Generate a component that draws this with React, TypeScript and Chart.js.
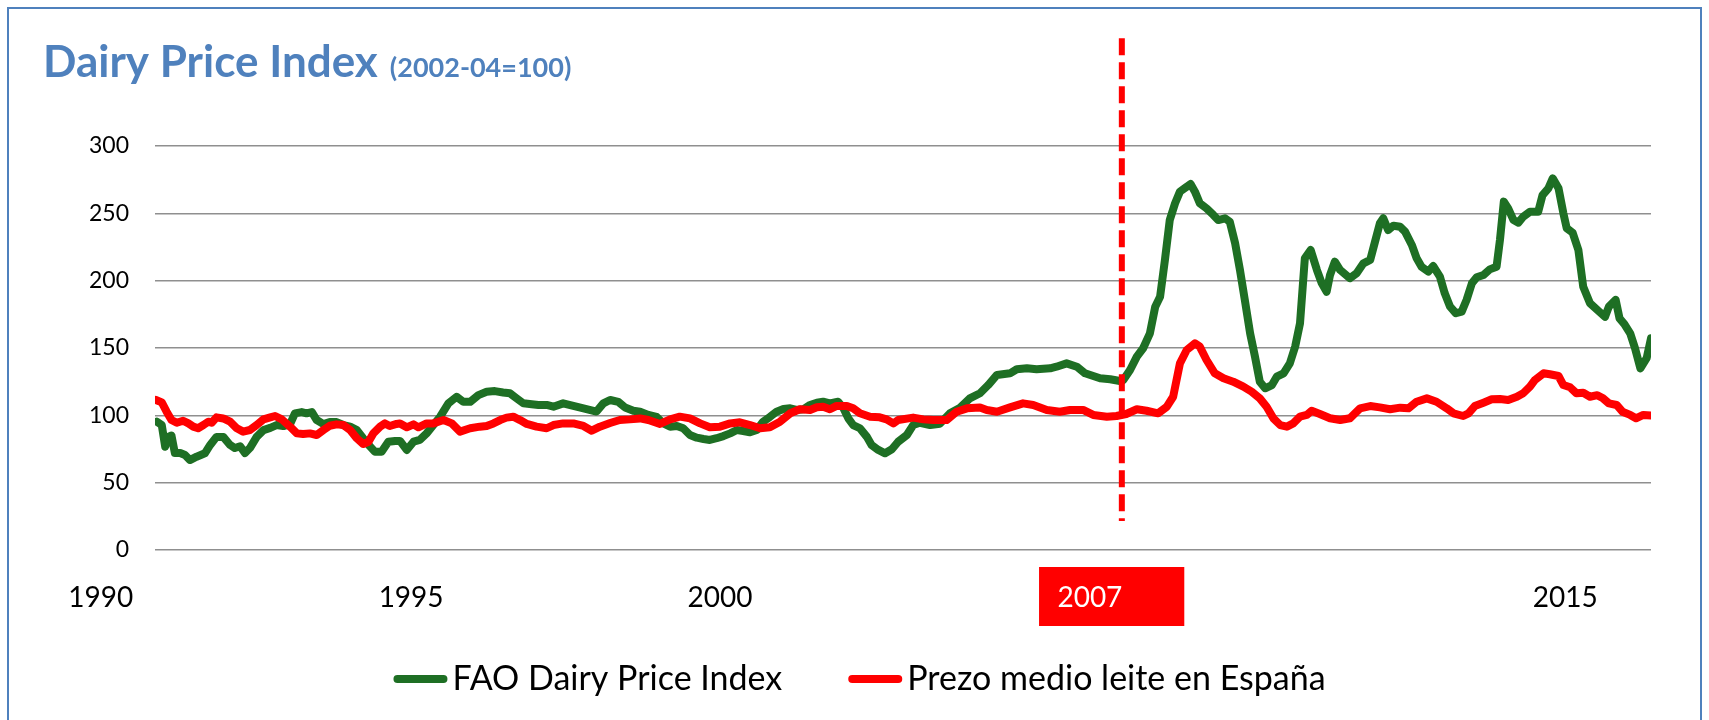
import React, { useEffect, useRef } from 'react';
import { Chart, registerables } from 'chart.js';
Chart.register(...registerables);

// months counted from January 1990 (0 = Jan 1990)
const greenMonths = [0.4,1.4,2.1,2.7,3.4,4.1,5.2,6.2,7.2,8.6,10.3,11.4,12.7,14.1,15.5,16.5,17.6,18.6,19.6,21.0,22.4,23.8,25.1,26.5,27.9,28.9,30.3,31.3,32.4,33.4,34.8,36.1,37.5,38.9,40.3,41.7,43.0,44.4,45.4,46.8,48.2,49.6,50.6,52.0,53.4,54.7,56.1,57.5,58.9,60.6,62.3,63.7,65.1,66.8,68.5,70.2,71.9,73.3,74.7,76.1,77.8,79.2,80.9,82.3,84.3,86.4,88.5,91.2,92.6,94.0,95.7,97.1,98.8,100.2,101.9,103.6,105.0,106.4,107.8,109.1,110.5,111.9,113.3,114.6,116.0,117.4,118.8,120.2,121.5,122.9,124.3,125.6,127.0,128.4,129.8,131.2,132.5,133.9,135.3,136.7,138.0,139.4,141.1,142.2,143.2,144.2,145.6,147.0,148.0,149.4,150.8,152.2,153.5,155.3,156.6,158.0,160.1,162.1,164.2,166.3,168.3,170.4,172.1,173.9,176.6,178.0,180.1,182.1,184.9,186.2,188.3,190.4,192.1,193.8,195.2,197.3,199.3,200.0,201.4,202.8,204.1,205.5,206.6,207.6,208.6,209.6,210.7,211.7,213.1,213.9,214.8,215.8,217.2,218.6,219.6,221.0,222.0,223.1,224.1,225.1,226.2,227.2,228.2,229.3,230.7,231.7,233.1,234.4,235.5,236.5,237.5,238.7,240.0,241.0,242.0,242.7,243.7,244.8,246.8,248.2,249.6,251.0,252.0,253.0,253.7,254.7,255.8,257.2,258.2,259.6,260.6,261.6,263.0,264.0,265.4,266.4,267.5,268.7,269.9,270.9,272.0,273.0,274.4,275.7,277.1,277.8,278.6,279.5,280.6,281.6,282.6,284.0,285.7,286.6,287.8,288.7,289.9,290.9,291.6,292.8,294.0,295.0,296.4,298.3,299.5,300.3,301.7,302.5,303.5,304.7,305.7,306.8,308.1,309.0];
const greenValues = [95.3,92.8,76.7,84,85,72,72,70.5,66.8,69.3,71.8,78,84,84,78,75.7,77,72,75.7,84,89,90.7,92.8,92,93.5,101.5,102.4,101.5,102.4,96.5,93.5,95,95,92.8,91.6,89,83,77,73,73,80.4,81,81,74.3,80.4,81.7,86.6,92.8,99,108.9,113.8,110,110,115,117.5,118,117,116.4,112.6,108.9,108.2,107.7,107.7,106.4,108.9,107,105.2,102.8,108.9,111.4,110,105.8,103.4,102.7,100.3,98.8,94,91.6,92.1,90.4,85.4,83.4,82.4,81.7,83,84.6,86.6,89.1,88.4,87.4,89.1,95.3,98.8,102.7,104.7,105.2,104,104.5,107.7,109.4,110.1,108.9,110.1,105.2,97.8,92.8,90.4,84.2,78,74.3,71.8,74.8,80.4,85.4,92.8,94.5,92.8,93.8,101.5,105.7,112.6,116.4,122.5,130,131.2,134.2,134.9,134.2,134.9,136.1,138.6,136.1,131.2,129.2,127.5,126.8,125.5,126.2,133.7,143.6,149.8,160.9,180.7,188.1,215.4,245,257.5,266.1,269.8,271.8,266.1,257.5,253.7,248.8,245,246.3,243.8,227.8,207.9,185.7,160.9,143.6,125,120.1,122.5,128.7,131.2,138.6,151,168.3,216.6,222.8,207.9,198,191.8,204.2,214.1,207.9,201.8,205.5,212.9,215.4,229,242.6,246.3,237.6,240.8,240,236.4,226.5,216.6,210.4,206.7,210.9,203,190.6,180.7,175.8,177,185.7,198,202.5,204.2,208.4,210.4,230.2,258.7,253.7,245,243.1,247.5,251.2,251.2,263.6,268.6,276,268.6,250,238.9,235.7,222.8,195.5,183.2,177,173.2,180.7,185.7,172,167.8,160.9,149.8,134.9,142.4,157.2];

const redMonths = [0.2,1.4,2.4,3.4,4.5,5.8,6.9,7.9,8.9,10.0,11.0,11.7,12.7,14.1,15.5,16.9,18.2,19.6,21.0,22.4,23.8,24.8,26.2,27.9,29.3,30.6,32.0,33.4,34.8,36.1,37.5,38.9,40.3,41.7,43.0,44.1,45.1,46.5,47.5,48.5,49.9,50.6,52.0,53.4,54.4,56.1,57.5,59.6,61.3,63.0,65.1,67.1,68.5,69.9,71.3,72.6,74.0,75.4,76.8,78.8,80.9,82.3,84.3,86.4,88.5,90.2,91.9,94.0,96.0,98.1,100.2,101.9,104.3,106.4,108.4,110.5,112.6,114.6,116.7,118.8,120.8,122.9,125.0,127.0,129.1,131.2,133.2,135.3,136.7,138.0,139.4,140.8,142.9,144.2,145.6,147.7,149.7,151.1,152.5,153.5,156.6,158.7,160.8,163.5,165.6,167.7,170.4,171.8,173.9,176.6,179.3,181.4,184.2,186.9,189.0,191.7,193.8,196.6,198.6,200.6,202.8,204.8,207.2,209.0,210.3,211.7,213.1,214.8,215.8,217.2,218.9,220.7,222.7,224.8,226.5,228.2,229.6,231.0,232.4,233.8,235.1,236.5,237.9,238.9,240.6,242.7,244.8,246.8,248.9,251.0,253.0,255.1,257.2,258.9,260.6,262.7,264.7,266.8,268.2,270.2,271.3,272.6,274.4,276.1,277.8,279.5,281.3,282.6,284.0,285.0,286.8,288.1,289.9,290.9,292.3,293.6,295.0,296.4,297.9,299.1,300.3,301.9,303.1,304.7,305.9,307.4,309.0];
const redValues = [111.4,109.6,102.7,96.5,94.5,96,94,91.6,90.4,92.8,95.3,94.5,98.5,97.7,95.3,90.4,87.9,89.1,92.8,97,98.5,99.5,97,91.6,86.6,86.1,86.6,85.4,89.1,92.3,93.3,92.8,89.1,82.9,78.7,80.4,86.6,91.6,94,92.1,93.6,94,91.1,93.3,91.1,94,94,96.5,94,87.9,90.4,91.6,92.1,94,96.5,98.3,99,96.5,93.6,91.6,90.4,92.8,94,94,92.1,88.6,91.6,94.3,96.5,97,97.7,96.5,93.6,97,99,97.7,94,91.1,91.6,94,94.8,92.8,90.4,91.1,95.3,101.5,104.5,104,106,106.4,104.5,107,107,105.2,101.5,99,98.5,97,94,96.5,98.3,97,96.5,96.5,102.7,105.2,105.9,104,102.7,105.9,108.9,107.7,104,102.7,104,104,100.3,99,99.5,101,104.5,103.4,101.5,106.4,113.8,138.6,148.5,153.5,151,141.1,131.2,127.5,125,121.3,117.6,112.6,106.4,97.8,92.8,91.6,94,99,100.3,103.4,101,97.8,96.5,97.8,105.2,106.9,105.9,104.5,105.7,105.2,110.1,112.6,110.1,105.2,101.5,99.5,101.5,106.9,109.4,111.9,112.1,111.4,113.8,116.4,121.3,126.2,131.2,130.5,129.2,122.5,120.8,116.4,116.8,113.8,115,112.6,108.9,107.7,102.7,100.3,97.8,100.3,99.8];

const seriesLabels = ['FAO Dairy Price Index', 'Prezo medio leite en España'];
const titleMain = 'Dairy Price Index';
const titleSub = '(2002-04=100)';
const xTickMonths = [-11.2, 52.9, 116.7, 193.1, 291.3];
const xTickLabels = ['1990', '1995', '2000', '2007', '2015'];
const highlightLabel = '2007';
const highlightFrom = 182.6;
const highlightTo = 212.6;
const markerMonth = 199.7;
const markerFromValue = 21.5;
const markerToValue = 380;

const GREEN = '#1E6F24';
const RED = '#FF0000';
const BLUE = '#4F81BD';
const FONT = 'Lato, "Noto Sans", sans-serif';

const decorPlugin = {
  id: 'decor',
  beforeDraw(chart: any) {
    const { ctx } = chart;
    ctx.save();
    ctx.fillStyle = '#ffffff';
    ctx.fillRect(0, 0, chart.width, chart.height);
    ctx.strokeStyle = BLUE;
    ctx.lineWidth = 2;
    ctx.strokeRect(8, 8, 1693, 740);
    // title
    ctx.fillStyle = BLUE;
    ctx.textBaseline = 'alphabetic';
    ctx.textAlign = 'left';
    ctx.font = `bold 44px ${FONT}`;
    ctx.fillText(titleMain, 43, 77);
    const w = ctx.measureText(titleMain).width;
    ctx.font = `bold 27px ${FONT}`;
    ctx.fillText(titleSub, 43 + w + 12, 77);
    ctx.restore();
  },
  afterDatasetsDraw(chart: any) {
    const { ctx } = chart;
    const xs = chart.scales.x;
    const ys = chart.scales.y;
    ctx.save();
    const mx = xs.getPixelForValue(markerMonth);
    ctx.strokeStyle = RED;
    ctx.lineWidth = 6;
    ctx.setLineDash([17, 7]);
    ctx.beginPath();
    ctx.moveTo(mx, ys.getPixelForValue(markerToValue));
    ctx.lineTo(mx, ys.getPixelForValue(markerFromValue));
    ctx.stroke();
    ctx.restore();
  },
  afterDraw(chart: any) {
    const { ctx } = chart;
    const xs = chart.scales.x;
    ctx.save();
    // highlight box
    const bx0 = xs.getPixelForValue(highlightFrom);
    const bx1 = xs.getPixelForValue(highlightTo);
    ctx.fillStyle = RED;
    ctx.fillRect(bx0, 567, bx1 - bx0, 59);
    // x labels
    ctx.font = `28px ${FONT}`;
    ctx.textAlign = 'center';
    ctx.textBaseline = 'middle';
    xTickLabels.forEach((lab, i) => {
      ctx.fillStyle = lab === highlightLabel ? '#ffffff' : '#000000';
      ctx.fillText(lab, xs.getPixelForValue(xTickMonths[i]), 598);
    });
    // legend
    const items = [
      { label: seriesLabels[0], color: GREEN },
      { label: seriesLabels[1], color: RED },
    ];
    ctx.font = `34px ${FONT}`;
    const lineLen = 54;
    const gapText = 5;
    const gapItems = 66;
    let total = 0;
    items.forEach((it, i) => {
      total += lineLen + gapText + ctx.measureText(it.label).width + (i ? gapItems : 0);
    });
    let x = chart.width / 2 - total / 2 + 5;
    const ly = 679;
    items.forEach((it, i) => {
      if (i) x += gapItems;
      ctx.strokeStyle = it.color;
      ctx.lineWidth = 8;
      ctx.lineCap = 'round';
      ctx.beginPath();
      ctx.moveTo(x + 4, ly);
      ctx.lineTo(x + lineLen - 4, ly);
      ctx.stroke();
      x += lineLen + gapText;
      ctx.fillStyle = '#000000';
      ctx.textAlign = 'left';
      ctx.textBaseline = 'middle';
      ctx.fillText(it.label, x, ly);
      x += ctx.measureText(it.label).width;
    });
    ctx.restore();
  },
};

export default function App() {
  const ref = useRef<HTMLCanvasElement | null>(null);
  useEffect(() => {
    document.body.style.margin = '0';
    const canvas = ref.current;
    if (!canvas) return;
    const chart = new Chart(canvas, {
      type: 'line',
      data: {
        datasets: [
          {
            label: seriesLabels[0],
            data: greenMonths.map((m, i) => ({ x: m, y: greenValues[i] })),
            borderColor: GREEN,
            backgroundColor: GREEN,
            borderWidth: 8,
            pointRadius: 0,
            tension: 0,
            borderJoinStyle: 'round',
            borderCapStyle: 'round',
            order: 1,
          },
          {
            label: seriesLabels[1],
            data: redMonths.map((m, i) => ({ x: m, y: redValues[i] })),
            borderColor: RED,
            backgroundColor: RED,
            borderWidth: 8,
            pointRadius: 0,
            tension: 0,
            borderJoinStyle: 'round',
            borderCapStyle: 'round',
            order: 0,
          },
        ],
      },
      options: {
        responsive: false,
        animation: false,
        events: [],
        layout: { padding: { left: 0, right: 58, top: 146, bottom: 170 } },
        plugins: {
          legend: { display: false },
          title: { display: false },
          tooltip: { enabled: false },
        },
        scales: {
          x: {
            type: 'linear',
            display: false,
            min: 0,
            max: 309,
          },
          y: {
            min: 0,
            max: 300,
            afterFit(scale: any) {
              scale.width = 155;
            },
            ticks: {
              stepSize: 50,
              padding: 26,
              color: '#000000',
              font: { family: FONT, size: 23 },
            },
            grid: { color: '#8f8f8f', lineWidth: 1.5, drawTicks: false },
            border: { display: false },
          },
        },
      },
      plugins: [decorPlugin],
    });
    return () => chart.destroy();
  }, []);
  return (
    <div style={{ position: 'fixed', left: 0, top: 0, width: 1709, height: 720 }}>
      <canvas ref={ref} width={1709} height={720} style={{ display: 'block' }} />
    </div>
  );
}
